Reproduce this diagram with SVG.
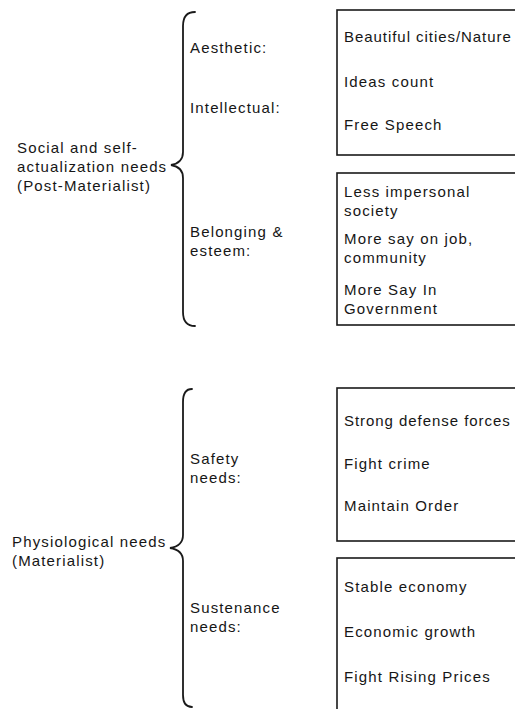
<svg xmlns="http://www.w3.org/2000/svg" width="515" height="709" viewBox="0 0 515 709">
<style>
text{font-family:"Liberation Sans",Arial,sans-serif;font-size:15px;letter-spacing:1.15px;fill:#161616}
.tight{letter-spacing:0.95px}
.box{fill:none;stroke:#1a1a1a;stroke-width:1.6}
.brace{fill:none;stroke:#1a1a1a;stroke-width:1.8;stroke-linecap:round}
</style>
<rect width="515" height="709" fill="#ffffff"/>
<g id="connectors">
<path class="brace" d="M195,12 Q183,12 183,26 L183,152 Q183,163 171,165 Q183,167 183,178 L183,312 Q183,326 195,326"/>
<path class="brace" d="M192,389 Q183,389 183,402 L183,535 Q183,546 170,548 Q183,550 183,561 L183,695 Q183,707 192,707"/>
</g>
<g id="postmat">
<text x="17" y="153">Social and self-</text>
<text x="17" y="172">actualization needs</text>
<text x="17" y="191">(Post-Materialist)</text>
</g>
<g id="mat">
<text x="12" y="547">Physiological needs</text>
<text x="12" y="566">(Materialist)</text>
</g>
<g id="aesthetic"><text x="190" y="53">Aesthetic:</text></g>
<g id="intellectual"><text x="190" y="113">Intellectual:</text></g>
<g id="belonging"><text x="190" y="237">Belonging &amp;</text><text x="190" y="256">esteem:</text></g>
<g id="safety"><text x="190" y="464">Safety</text><text x="190" y="483">needs:</text></g>
<g id="sustenance"><text x="190" y="613">Sustenance</text><text x="190" y="632">needs:</text></g>
<g id="box1">
<rect class="box" x="337" y="10" width="200" height="145"/>
<text class="tight" x="344" y="42">Beautiful cities/Nature</text>
<text x="344" y="87">Ideas count</text>
<text x="344" y="130">Free Speech</text>
</g>
<g id="box2">
<rect class="box" x="337" y="173" width="200" height="152"/>
<text x="344" y="197">Less impersonal</text>
<text x="344" y="216">society</text>
<text x="344" y="244">More say on job,</text>
<text x="344" y="263">community</text>
<text x="344" y="295">More Say In</text>
<text x="344" y="314">Government</text>
</g>
<g id="box3">
<rect class="box" x="337" y="388" width="200" height="153"/>
<text class="tight" x="344" y="426">Strong defense forces</text>
<text x="344" y="469">Fight crime</text>
<text x="344" y="511">Maintain Order</text>
</g>
<g id="box4">
<rect class="box" x="337" y="558" width="200" height="170"/>
<text x="344" y="592">Stable economy</text>
<text x="344" y="637">Economic growth</text>
<text x="344" y="682">Fight Rising Prices</text>
</g>
</svg>
